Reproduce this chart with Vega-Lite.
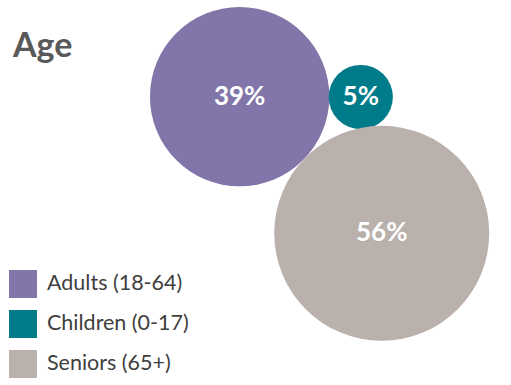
{
  "$schema": "https://vega.github.io/schema/vega-lite/v6.json",
  "width": 511,
  "height": 385,
  "autosize": {"type": "fit", "contains": "padding"},
  "padding": 0,
  "background": "white",
  "title": {
    "text": "Age",
    "orient": "top",
    "anchor": "start",
    "frame": "group",
    "offset": -58,
    "baseline": "alphabetic",
    "dx": 13,
    "dy": 33,
    "font": "Lato",
    "fontSize": 34,
    "fontWeight": "bold",
    "color": "#595959"
  },
  "data": {
    "values": [
      {"group": "Adults (18-64)", "pct": 39, "label": "39%", "x": 46.9, "y": 74.9},
      {"group": "Children (0-17)", "pct": 5, "label": "5%", "x": 70.6, "y": 74.8},
      {"group": "Seniors (65+)", "pct": 56, "label": "56%", "x": 74.7, "y": 39.4}
    ]
  },
  "encoding": {
    "x": {"field": "x", "type": "quantitative", "axis": null, "scale": {"domain": [0, 100], "nice": false, "zero": false}},
    "y": {"field": "y", "type": "quantitative", "axis": null, "scale": {"domain": [0, 100], "nice": false, "zero": false}}
  },
  "layer": [
    {
      "mark": {"type": "circle", "opacity": 1, "strokeWidth": 0},
      "encoding": {
        "size": {"field": "pct", "type": "quantitative", "legend": null, "scale": {"domain": [0, 56], "range": [0, 46200]}},
        "color": {
          "field": "group",
          "type": "nominal",
          "scale": {"domain": ["Adults (18-64)", "Children (0-17)", "Seniors (65+)"], "range": ["#8175A9", "#007B8A", "#BAB0AC"]},
          "legend": {
            "title": null,
            "orient": "none",
            "legendX": 9,
            "legendY": 270,
            "symbolType": "square",
            "symbolSize": 784,
            "symbolStrokeWidth": 0,
            "symbolOpacity": 1,
            "rowPadding": 12,
            "labelOffset": 10,
            "labelFont": "Lato",
            "labelFontSize": 21.5,
            "labelColor": "#404040",
            "padding": 0
          }
        }
      }
    },
    {
      "mark": {"type": "text", "font": "Lato", "fontSize": 26, "fontWeight": "bold", "color": "white", "baseline": "middle", "align": "center"},
      "encoding": {
        "text": {"field": "label"}
      }
    }
  ],
  "config": {"view": {"stroke": null}}
}
